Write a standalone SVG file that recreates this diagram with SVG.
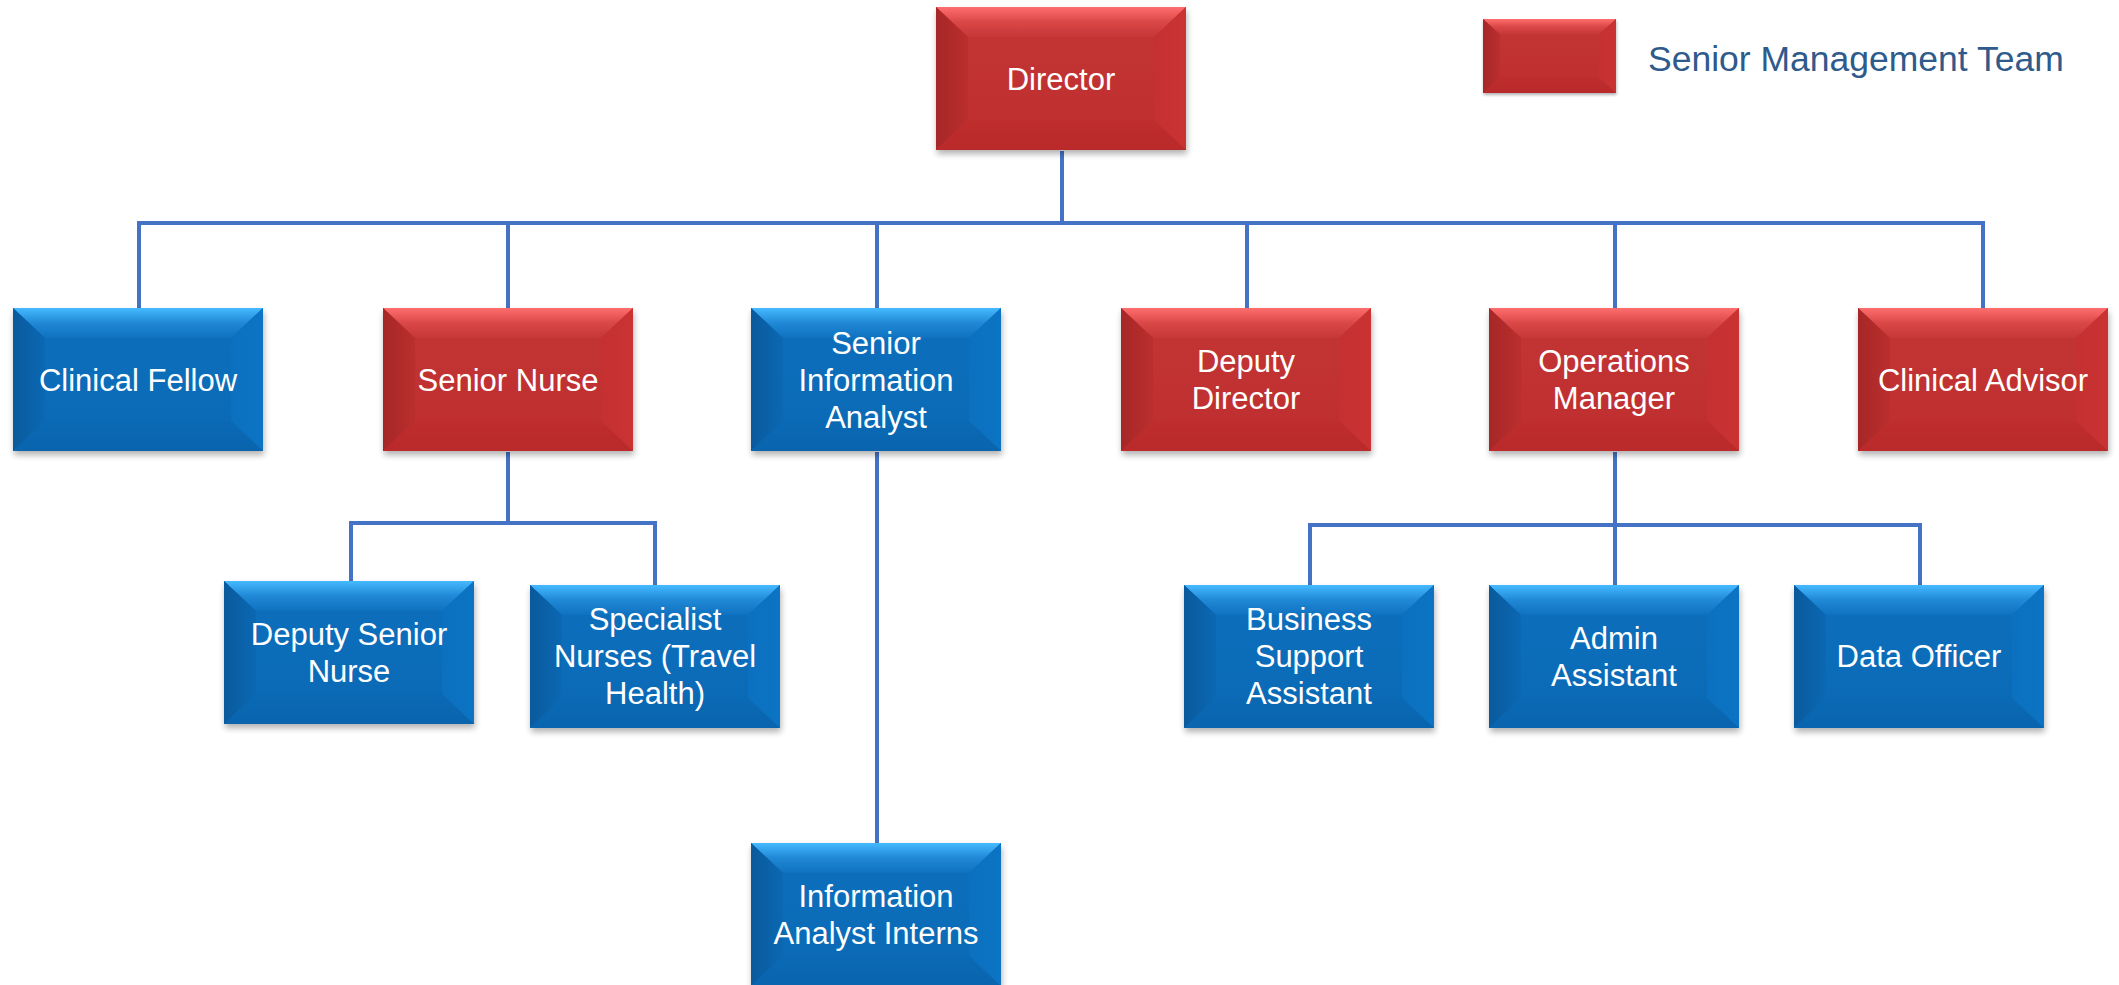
<svg xmlns="http://www.w3.org/2000/svg" xmlns:xlink="http://www.w3.org/1999/xlink" width="2119" height="985" viewBox="0 0 2119 985">
<style>
.lbl{font-family:"Liberation Sans",Arial,sans-serif;font-size:31px;fill:#ffffff;text-anchor:middle}
.leg{font-family:"Liberation Sans",Arial,sans-serif;font-size:35.5px;fill:#2E5A8C}
.con{fill:none;stroke:#4472C4;stroke-width:4;stroke-linejoin:miter}
</style>
<defs>
<filter id="sh" x="-10%" y="-10%" width="120%" height="130%"><feGaussianBlur stdDeviation="3"/></filter>
<linearGradient id="bFace" x1="0" y1="0" x2="0" y2="1"><stop offset="0" stop-color="#0D70BD"/><stop offset="1" stop-color="#0A69B5"/></linearGradient>
<linearGradient id="bTop" x1="0" y1="0" x2="0" y2="1"><stop offset="0" stop-color="#45BAFF"/><stop offset="0.5" stop-color="#2088D6"/><stop offset="1" stop-color="#0F72C0"/></linearGradient>
<linearGradient id="bLeft" x1="0" y1="0" x2="1" y2="0"><stop offset="0" stop-color="#0A5A9C"/><stop offset="1" stop-color="#0B68B3"/></linearGradient>
<linearGradient id="bRight" x1="0" y1="0" x2="1" y2="0"><stop offset="0" stop-color="#0B70BF"/><stop offset="1" stop-color="#0C74C4"/></linearGradient>
<linearGradient id="bBot" x1="0" y1="0" x2="0" y2="1"><stop offset="0" stop-color="#0A69B5"/><stop offset="1" stop-color="#0A64AE"/></linearGradient>
<linearGradient id="rFace" x1="0" y1="0" x2="0" y2="1"><stop offset="0" stop-color="#C33535"/><stop offset="1" stop-color="#BF2E2E"/></linearGradient>
<linearGradient id="rTop" x1="0" y1="0" x2="0" y2="1"><stop offset="0" stop-color="#FF6E6E"/><stop offset="0.5" stop-color="#DA4747"/><stop offset="1" stop-color="#C63737"/></linearGradient>
<linearGradient id="rLeft" x1="0" y1="0" x2="1" y2="0"><stop offset="0" stop-color="#A62727"/><stop offset="1" stop-color="#BB2E2E"/></linearGradient>
<linearGradient id="rRight" x1="0" y1="0" x2="1" y2="0"><stop offset="0" stop-color="#C53030"/><stop offset="1" stop-color="#CB3333"/></linearGradient>
<linearGradient id="rBot" x1="0" y1="0" x2="0" y2="1"><stop offset="0" stop-color="#BF2D2D"/><stop offset="1" stop-color="#BA2A2A"/></linearGradient>
<g id="blue">
<rect x="1" y="4" width="250" height="143" fill="#000" opacity="0.3" filter="url(#sh)"/>
<rect width="250" height="143" fill="url(#bFace)"/>
<polygon points="0,0 250,0 218,30 32,30" fill="url(#bTop)"/>
<polygon points="0,0 32,30 32,113 0,143" fill="url(#bLeft)"/>
<polygon points="250,0 250,143 218,113 218,30" fill="url(#bRight)"/>
<polygon points="0,143 32,113 218,113 250,143" fill="url(#bBot)"/>
</g>
<g id="red">
<rect x="1" y="4" width="250" height="143" fill="#000" opacity="0.3" filter="url(#sh)"/>
<rect width="250" height="143" fill="url(#rFace)"/>
<polygon points="0,0 250,0 218,30 32,30" fill="url(#rTop)"/>
<polygon points="0,0 32,30 32,113 0,143" fill="url(#rLeft)"/>
<polygon points="250,0 250,143 218,113 218,30" fill="url(#rRight)"/>
<polygon points="0,143 32,113 218,113 250,143" fill="url(#rBot)"/>
</g>
</defs>
<rect width="2119" height="985" fill="#ffffff"/>

<g id="connectors">
<path class="con" d="M1062,151 V223"/>
<path class="con" d="M139,308 V223 H1983 V308"/>
<path class="con" d="M508,223 V308"/>
<path class="con" d="M877,223 V308"/>
<path class="con" d="M1247,223 V308"/>
<path class="con" d="M1615,223 V308"/>
<path class="con" d="M508,452 V523"/>
<path class="con" d="M351,581 V523 H655 V585"/>
<path class="con" d="M877,452 V843"/>
<path class="con" d="M1615,452 V585"/>
<path class="con" d="M1310,585 V525 H1920 V585"/>
</g>

<g id="legend">
<use xlink:href="#red" transform="translate(1483,19) scale(0.532,0.517)"/>
<text class="leg" x="1648" y="71">Senior Management Team</text>
</g>

<g id="director"><use xlink:href="#red" x="936" y="7"/><text class="lbl" x="1061" y="90">Director</text></g>

<g id="clinical-fellow"><use xlink:href="#blue" x="13" y="308"/><text class="lbl" x="138" y="391">Clinical Fellow</text></g>
<g id="senior-nurse"><use xlink:href="#red" x="383" y="308"/><text class="lbl" x="508" y="391">Senior Nurse</text></g>
<g id="senior-information-analyst"><use xlink:href="#blue" x="751" y="308"/><text class="lbl" x="876"><tspan x="876" y="354">Senior</tspan><tspan x="876" y="391">Information</tspan><tspan x="876" y="428">Analyst</tspan></text></g>
<g id="deputy-director"><use xlink:href="#red" x="1121" y="308"/><text class="lbl"><tspan x="1246" y="372">Deputy</tspan><tspan x="1246" y="409">Director</tspan></text></g>
<g id="operations-manager"><use xlink:href="#red" x="1489" y="308"/><text class="lbl"><tspan x="1614" y="372">Operations</tspan><tspan x="1614" y="409">Manager</tspan></text></g>
<g id="clinical-advisor"><use xlink:href="#red" x="1858" y="308"/><text class="lbl" x="1983" y="391">Clinical Advisor</text></g>

<g id="deputy-senior-nurse"><use xlink:href="#blue" x="224" y="581"/><text class="lbl"><tspan x="349" y="645">Deputy Senior</tspan><tspan x="349" y="682">Nurse</tspan></text></g>
<g id="specialist-nurses"><use xlink:href="#blue" x="530" y="585"/><text class="lbl"><tspan x="655" y="630">Specialist</tspan><tspan x="655" y="667">Nurses (Travel</tspan><tspan x="655" y="704">Health)</tspan></text></g>

<g id="business-support-assistant"><use xlink:href="#blue" x="1184" y="585"/><text class="lbl"><tspan x="1309" y="630">Business</tspan><tspan x="1309" y="667">Support</tspan><tspan x="1309" y="704">Assistant</tspan></text></g>
<g id="admin-assistant"><use xlink:href="#blue" x="1489" y="585"/><text class="lbl"><tspan x="1614" y="649">Admin</tspan><tspan x="1614" y="686">Assistant</tspan></text></g>
<g id="data-officer"><use xlink:href="#blue" x="1794" y="585"/><text class="lbl" x="1919" y="667">Data Officer</text></g>

<g id="information-analyst-interns"><use xlink:href="#blue" x="751" y="843"/><text class="lbl"><tspan x="876" y="907">Information</tspan><tspan x="876" y="944">Analyst Interns</tspan></text></g>
</svg>
